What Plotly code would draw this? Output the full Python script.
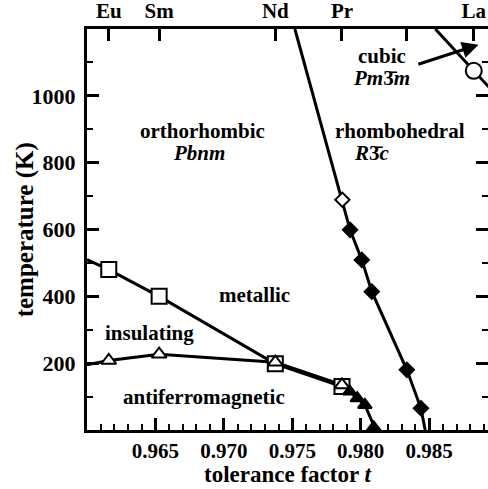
import plotly.graph_objects as go

# RNiO3 phase diagram: temperature vs tolerance factor t
FONT = "Liberation Serif, Times New Roman, serif"

# metal-insulator transition (open squares)
mi_t = [0.96159, 0.96527, 0.97376, 0.97863]
mi_T = [480, 400, 198, 130]
mi_line_t = [0.9600, 0.96159, 0.96527, 0.97376, 0.97863]
mi_line_T = [510, 480, 400, 198, 130]

# Neel temperature (open and filled triangles)
afm_open_t = [0.96159, 0.96527, 0.97376, 0.97863]
afm_open_T = [208, 227, 203, 135]
afm_fill_t = [0.97920, 0.97975, 0.98030, 0.98095]
afm_fill_T = [115, 95, 75, 8]
afm_line_t = [0.9600, 0.96159, 0.96527, 0.97376, 0.97863, 0.97920, 0.97975, 0.98030, 0.98110]
afm_line_T = [195, 208, 227, 203, 135, 115, 95, 75, 0]

# orthorhombic-rhombohedral boundary (diamonds)
or_open_t = [0.97866]
or_open_T = [689]
or_fill_t = [0.97922, 0.98008, 0.98081, 0.98337, 0.98440]
or_fill_T = [599, 509, 414, 180, 65]
or_line_t = [0.97519, 0.97866, 0.97922, 0.98008, 0.98081, 0.98337, 0.98440, 0.98471]
or_line_T = [1200, 689, 599, 509, 414, 180, 65, 0]

# rhombohedral-cubic boundary (open circle)
rc_t = [0.98826]
rc_T = [1075]
rc_line_t = [0.98545, 0.98826, 0.99000]
rc_line_T = [1200, 1075, 998]

# rare-earth ions on the top axis
ion_t = [0.96159, 0.96527, 0.97376, 0.97863, 0.98337, 0.98826]
ion_names = ["Eu", "Sm", "Nd", "Pr", "", "La"]

x_ticks = [0.965, 0.970, 0.975, 0.980, 0.985]
y_ticks = [200, 400, 600, 800, 1000]

BLACK = "black"
LW = 3

fig = go.Figure()

def line(xs, ys):
    fig.add_trace(go.Scatter(x=xs, y=ys, mode="lines",
                             line=dict(color=BLACK, width=LW),
                             hoverinfo="skip", showlegend=False))

def marks(xs, ys, symbol, size, filled):
    fig.add_trace(go.Scatter(
        x=xs, y=ys, mode="markers", showlegend=False,
        marker=dict(symbol=symbol, size=size,
                    color=BLACK if filled else "white",
                    line=dict(color=BLACK, width=2))))

line(mi_line_t, mi_line_T)
line(afm_line_t, afm_line_T)
line(or_line_t, or_line_T)
line(rc_line_t, rc_line_T)

marks(mi_t, mi_T, "square", 15, False)
marks(afm_open_t, afm_open_T, "triangle-up", 13, False)
marks(afm_fill_t, afm_fill_T, "triangle-up", 12, True)
marks(or_open_t, or_open_T, "diamond", 11, False)
marks(or_fill_t, or_fill_T, "diamond", 11, True)
marks(rc_t, rc_T, "circle", 16, False)

# phase labels
labels = [
    ("orthorhombic", 0.96847, 896),
    ("<i>Pbnm</i>", 0.96815, 830),
    ("rhombohedral", 0.98287, 896),
    ("<i>R</i>3\u0304<i>c</i>", 0.98080, 830),
    ("cubic", 0.98155, 1120),
    ("<i>Pm</i>3\u0304<i>m</i>", 0.98155, 1053),
    ("metallic", 0.97227, 404),
    ("insulating", 0.96459, 291),
    ("antiferromagnetic", 0.96854, 99),
]
for txt, xv, yv in labels:
    fig.add_annotation(x=xv, y=yv, xref="x", yref="y", text=f"<b>{txt}</b>",
                       showarrow=False,
                       font=dict(family=FONT, size=21, color=BLACK, weight="bold"))

# arrow pointing from the cubic label to the boundary
fig.add_annotation(x=0.98861, y=1153, ax=0.98410, ay=1093,
                   xref="x", yref="y", axref="x", ayref="y",
                   text="", showarrow=True, arrowhead=2, arrowsize=1.1,
                   arrowwidth=3, arrowcolor=BLACK, standoff=0, startstandoff=0)

# axis titles
fig.add_annotation(x=0.5, y=-0.1122, xref="paper", yref="paper",
                   text="<b>tolerance factor <i>t</i></b>", showarrow=False,
                   xanchor="center", yanchor="middle", borderpad=0,
                   font=dict(family=FONT, size=23, color=BLACK, weight="bold"))
fig.add_annotation(x=-0.155, y=0.5, xref="paper", yref="paper",
                   text="<b>temperature (K)</b>", showarrow=False, textangle=-90,
                   xanchor="center", yanchor="middle", borderpad=0,
                   font=dict(family=FONT, size=25, color=BLACK, weight="bold"))

ytickfont = dict(family=FONT, size=22, color=BLACK, weight="bold")
xtickfont = dict(family=FONT, size=21, color=BLACK, weight="bold")

fig.update_layout(
    width=488, height=489,
    margin=dict(l=87, r=0, t=29, b=59),
    plot_bgcolor="white", paper_bgcolor="white",
    showlegend=False,
    xaxis=dict(range=[0.960, 0.9893], showgrid=False, zeroline=False,
               showline=True, linewidth=LW, linecolor=BLACK,
               ticks="inside", ticklen=12, tickwidth=3, tickcolor=BLACK,
               tickvals=x_ticks, ticktext=[f"{v:.3f}" for v in x_ticks],
               tickfont=xtickfont, ticklabelstandoff=0,
               minor=dict(dtick=0.001, tick0=0.96, ticks="inside", ticklen=6,
                          tickwidth=2, tickcolor=BLACK, showgrid=False)),
    xaxis2=dict(range=[0.960, 0.9893], overlaying="x", side="top",
                showgrid=False, zeroline=False, showline=True,
                linewidth=LW, linecolor=BLACK,
                ticks="inside", ticklen=12, tickwidth=3, tickcolor=BLACK,
                tickvals=ion_t, ticktext=ion_names, tickfont=xtickfont),
    yaxis=dict(range=[0, 1200], showgrid=False, zeroline=False,
               showline=True, linewidth=LW, linecolor=BLACK,
               ticks="inside", ticklen=12, tickwidth=3, tickcolor=BLACK,
               tickvals=y_ticks, tickfont=ytickfont, ticklabelstandoff=4,
               minor=dict(dtick=100, tick0=0, ticks="inside", ticklen=6,
                          tickwidth=2, tickcolor=BLACK, showgrid=False)),
    yaxis2=dict(range=[0, 1200], overlaying="y", side="right",
                showgrid=False, zeroline=False, showline=False,
                ticks="inside", ticklen=12, tickwidth=3, tickcolor=BLACK,
                tickvals=y_ticks, showticklabels=False,
                minor=dict(dtick=100, tick0=0, ticks="inside", ticklen=6,
                           tickwidth=2, tickcolor=BLACK, showgrid=False)),
)
# attach a dummy trace so the secondary axes are drawn
fig.add_trace(go.Scatter(x=[None], y=[None], xaxis="x2", yaxis="y2",
                         showlegend=False, hoverinfo="skip"))

fig.write_html("out.html")
